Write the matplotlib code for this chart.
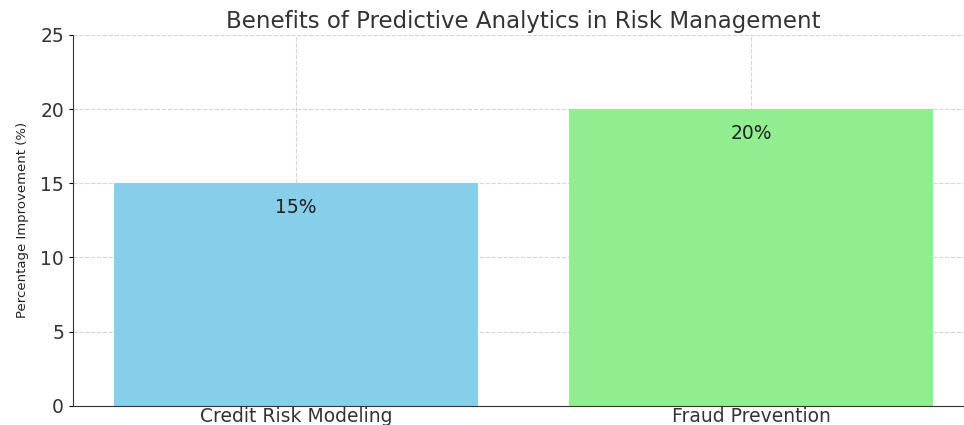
import matplotlib
matplotlib.use('Agg')
import matplotlib.pyplot as plt

categories = ['Credit Risk Modeling', 'Fraud Prevention']
improvement = [15, 20]
bar_colors = ['skyblue', 'lightgreen']

fig = plt.figure(figsize=(9.64, 4.25), dpi=100)
ax = fig.add_axes([0.0757, 0.045, 0.935, 0.873])

bars = ax.bar(categories, improvement, color=bar_colors, width=0.8, zorder=2)
for i, v in enumerate(improvement):
    ax.text(i, v - 1, f'{v}%', ha='center', va='top', fontsize=13.5,
            color='#222222', zorder=3)

ax.set_ylim(0, 25)
ax.set_yticks([0, 5, 10, 15, 20, 25])
ax.set_title('Benefits of Predictive Analytics in Risk Management',
             fontsize=16.5, color='#333333', pad=5)
ax.set_ylabel('Percentage Improvement (%)', fontsize=9.5, color='#222222',
              labelpad=8)
ax.grid(True, linestyle='--', color='#d5d5d5', linewidth=0.8, zorder=0)
ax.tick_params(axis='x', direction='in', length=3, labelsize=13.5, pad=1,
               labelcolor='#333333')
ax.tick_params(axis='y', length=3, labelsize=13.5, labelcolor='#333333')
ax.spines['top'].set_visible(False)
ax.spines['right'].set_visible(False)
ax.spines['left'].set_color('#333333')
ax.spines['bottom'].set_color('#333333')

fig.savefig('out.png', dpi=100)
